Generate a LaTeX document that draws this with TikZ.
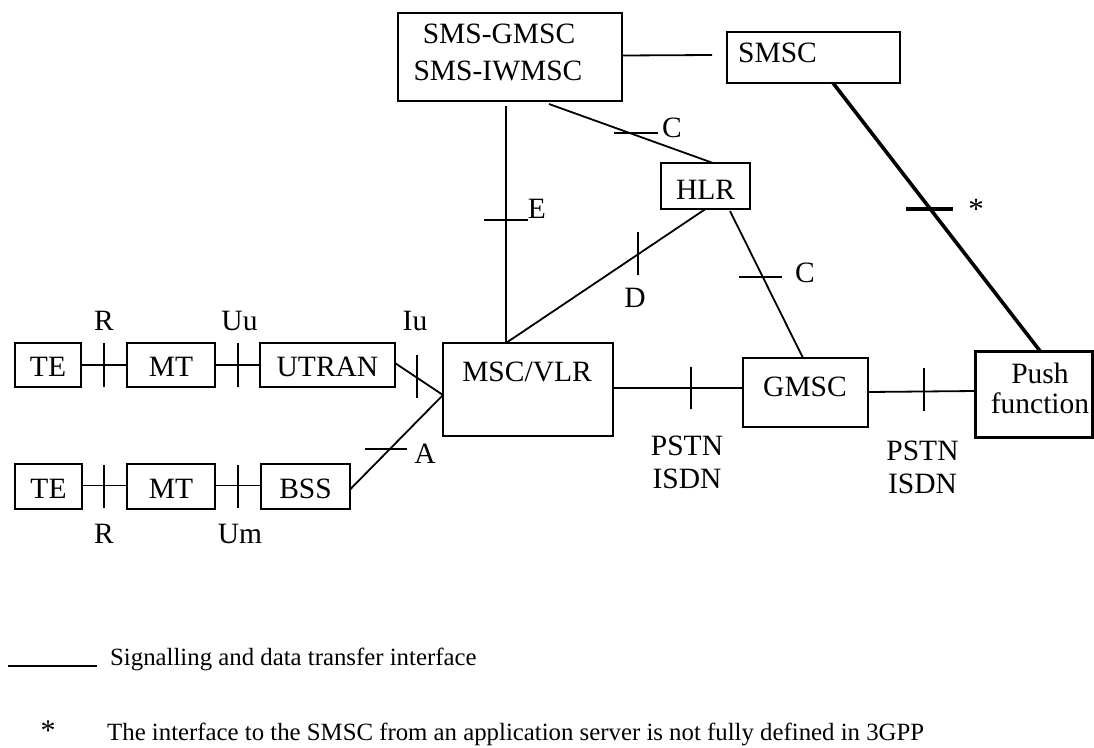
\documentclass[tikz,border=0pt]{standalone}
\usepackage{fontspec}
\setmainfont{Liberation Serif}
\usetikzlibrary{calc}
\begin{document}
\begin{tikzpicture}[x=1pt,y=-1pt,
  box/.style={draw,line width=1.8pt,rectangle,inner sep=0pt,outer sep=0pt,anchor=north west},
  lbl/.style={inner sep=0pt,anchor=base,font=\fontsize{29.5pt}{35pt}\selectfont},
  lgd/.style={inner sep=0pt,anchor=base west,font=\fontsize{24.8pt}{30pt}\selectfont},
  conn/.style={line width=1.8pt},
  tick/.style={line width=1.8pt},
  thick conn/.style={line width=3.6pt}]
\useasboundingbox (0,0) rectangle (1094,747);
\fill[white] (0,0) rectangle (1094,747);
% boxes
\node[box,minimum width=66pt,minimum height=44pt] (TE1) at (15,343) {};
\node[box,minimum width=88pt,minimum height=44pt] (MT1) at (127,343) {};
\node[box,minimum width=135pt,minimum height=44pt] (UTRAN) at (260,343) {};
\node[box,minimum width=67pt,minimum height=45pt] (TE2) at (15,464) {};
\node[box,minimum width=88pt,minimum height=45pt] (MT2) at (127,464) {};
\node[box,minimum width=89pt,minimum height=45pt] (BSS) at (261,464) {};
\node[box,minimum width=170pt,minimum height=93pt] (MSC) at (443,343) {};
\node[box,minimum width=224pt,minimum height=88pt] (SGM) at (398,13) {};
\node[box,minimum width=173pt,minimum height=51pt] (SMSC) at (727,32) {};
\node[box,minimum width=89pt,minimum height=46pt] (HLR) at (661,163) {};
\node[box,minimum width=125pt,minimum height=69pt] (GMSC) at (743,358) {};
\node[box,line width=3pt,minimum width=117pt,minimum height=86pt] (PUSH) at (975,351) {};
% box texts
\node[lbl] (tTE1) at (48,376) {TE};
\node[lbl] (tMT1) at (171,376) {MT};
\node[lbl] (tUTRAN) at (327.5,376) {UTRAN};
\node[lbl] (tTE2) at (48.5,498) {TE};
\node[lbl] (tMT2) at (171,498) {MT};
\node[lbl] (tBSS) at (305.5,498) {BSS};
\node[lbl] (tMSC) at (527,381) {MSC/VLR};
\node[lbl] (tSGM1) at (499,43) {SMS-GMSC};
\node[lbl] (tSGM2) at (498,80) {SMS-IWMSC};
\node[lbl,anchor=base west] (tSMSC) at (738,62) {SMSC};
\node[lbl] (tHLR) at (705.5,199) {HLR};
\node[lbl] (tGMSC) at (805,396) {GMSC};
\node[lbl] (tPUSH1) at (1040,383) {Push};
\node[lbl] (tPUSH2) at (1040,413) {function};
% connectors
\draw[conn] (TE1.east) -- (MT1.west);
\draw[conn] (MT1.east) -- (UTRAN.west);
\draw[conn] ([yshift=1pt]TE2.east) -- ([yshift=1pt]MT2.west);
\draw[conn] ([yshift=1pt]MT2.east) -- ([yshift=1pt]BSS.west);
\draw[conn] ([yshift=2pt]UTRAN.east) -- ([yshift=-52pt]MSC.north west);
\draw[conn] ([yshift=-3pt]BSS.east) -- ([yshift=-52pt]MSC.north west);
\draw[conn] ([xshift=108pt,yshift=-5pt]SGM.south west) -- ([xshift=63pt]MSC.north west);
\draw[conn] ([xshift=151pt,yshift=-3pt]SGM.south west) -- ([xshift=52pt]HLR.north west);
\draw[conn] (HLR.south) -- ([xshift=63pt]MSC.north west);
\draw[conn] ([xshift=69pt,yshift=-2pt]HLR.south west) -- ([xshift=60pt]GMSC.north west);
\draw[conn] ([yshift=1.5pt]SGM.east) -- ([xshift=-15pt,yshift=2.5pt]SMSC.west);
\draw[conn] ([yshift=1.5pt]MSC.east) -- ([yshift=4.5pt]GMSC.west);
\draw[conn] ([yshift=0.5pt]GMSC.east) -- ([yshift=3pt]PUSH.west);
\draw[thick conn] ([xshift=106pt]SMSC.south west) -- ([xshift=65pt]PUSH.north west);
% interface ticks
\draw[tick] (104,343) -- (104,387);
\draw[tick] (238,343) -- (238,387);
\draw[tick] (417,355) -- (417,398);
\draw[tick] (104,465) -- (104,508);
\draw[tick] (238,465) -- (238,508);
\draw[tick] (365,449) -- (407,449);
\draw[tick] (484,220) -- (528,220);
\draw[tick] (614,133) -- (658,133);
\draw[tick] (638,232) -- (638,275);
\draw[tick] (739,277) -- (782,277);
\draw[tick] (691,367) -- (691,409);
\draw[tick] (924,368) -- (924,411);
\draw[line width=4pt] (906,209) -- (953,209);
% interface labels
\node[lbl] (lR1) at (104,330) {R};
\node[lbl] (lUu) at (239.5,330) {Uu};
\node[lbl] (lIu) at (415,330) {Iu};
\node[lbl] (lR2) at (104,543) {R};
\node[lbl] (lUm) at (240,543) {Um};
\node[lbl] (lE) at (537,218) {E};
\node[lbl] (lC1) at (672,137) {C};
\node[lbl] (lD) at (635,307) {D};
\node[lbl] (lC2) at (805,282) {C};
\node[lbl] (lA) at (425,463) {A};
\node[lbl] (lP1a) at (687,455) {PSTN};
\node[lbl] (lP1b) at (687,488) {ISDN};
\node[lbl] (lP2a) at (922.5,460) {PSTN};
\node[lbl] (lP2b) at (922.5,493) {ISDN};
\node[lbl,font=\fontsize{31pt}{35pt}\selectfont] (lStar) at (976,219) {*};
% legend
\coordinate (lg1) at (8,666);
\coordinate (lg2) at (97,666);
\draw[line width=2pt] (lg1) -- (lg2);
\node[lgd] (lgt1) at (110,665) {Signalling and data transfer interface};
\node[lbl,anchor=center,font=\fontsize{30pt}{30pt}\selectfont] (lgs) at (48,731) {*};
\node[lgd] (lgt2) at (107,740.5) {The interface to the SMSC from an application server is not fully defined in 3GPP};
\end{tikzpicture}
\end{document}
